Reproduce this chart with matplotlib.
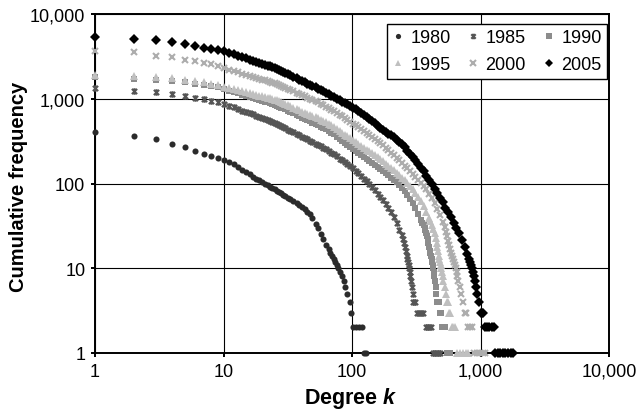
import matplotlib
matplotlib.use('Agg')
import matplotlib.pyplot as plt
from matplotlib.path import Path
from matplotlib.ticker import FixedLocator, FuncFormatter, NullLocator

plt.rcParams['font.family'] = ['Liberation Sans', 'DejaVu Sans']
plt.rcParams['mathtext.fontset'] = 'custom'
plt.rcParams['mathtext.rm'] = 'Liberation Sans:bold'
plt.rcParams['mathtext.it'] = 'Liberation Sans:italic:bold'

# ---------------- data ----------------
YEARS = ['1980', '1985', '1990', '1995', '2000', '2005']

# shared degree grid for the body of each curve (each series uses a prefix)
K_BODY = [1, 2, 3, 4, 5, 6, 7, 8, 9, 10,
          11, 12, 13, 14, 15, 16, 17, 18, 19,
          20, 21, 22, 23, 24, 25, 26, 27, 28, 29, 30,
          32, 33, 35, 37, 39, 41, 43, 45, 47, 49,
          52, 54, 57, 60, 63, 66, 69, 72, 76, 80,
          84, 88, 92, 97, 102, 107, 112, 118, 124, 130,
          136, 143, 150, 158, 166, 174, 183, 192, 201, 211,
          222, 233, 245, 257, 270, 283, 297, 312, 328, 344,
          361, 379, 398, 418, 439, 461, 484, 508, 534, 560,
          588, 618, 649, 681, 715, 751, 788]

C1980_BODY = [402, 366, 335, 292, 267, 244, 223, 209, 198, 190,
              179, 169, 155, 145, 136, 128, 120, 114, 109,
              104, 99.9, 96, 92.1, 88.5, 85.2, 82, 79.2, 76.5, 73.9, 71.5,
              67.4, 65.5, 61.8, 58.4, 55.5, 52.5, 49.4, 46.4, 43.1, 39.1,
              33.5, 30, 25.4, 21.9]
K1980_TAIL = [63, 66, 68, 70, 72, 74, 76, 78, 80, 83, 86, 89, 92, 96, 99,
              102, 108, 114, 120, 125, 129]
C1980_TAIL = [19, 17, 15, 14, 13, 12, 11, 10, 9, 8, 7, 6, 5, 4, 3,
              2, 2, 2, 2, 1, 1]

C1985_BODY = [1330, 1220, 1190, 1137, 1077, 1020, 993, 948, 908, 865,
              825, 789, 755, 725, 697, 673, 652, 631, 612,
              594, 579, 565, 551, 537, 522, 507, 492, 477, 464, 452,
              431, 420, 402, 385, 370, 356, 343, 331, 320.5, 310,
              296, 287, 275, 265, 256, 244, 232, 222.5, 209.5, 197,
              187.5, 178.5, 170, 159.8, 150.5, 141.6, 133.3, 123.7, 114.3,
              106.3,
              98.8, 91.1, 83.7, 76.1, 69.6, 63.4, 57.5, 51.3, 46, 40.3,
              34, 28.6]
K1985_TAIL = [243, 250, 255, 258, 262, 266, 270, 273, 276, 279, 282, 285,
              288, 292, 296, 300, 312, 320, 338, 355, 375, 393, 410, 427,
              445, 465, 485]
C1985_TAIL = [24.5, 22, 20, 18, 16, 14, 13, 12, 11, 10, 9, 8, 7, 6, 5, 4,
              4, 3, 3, 3, 2, 2, 2, 1, 1, 1, 1]

C1990_BODY = [1800, 1710, 1665, 1606, 1563, 1494, 1455, 1403, 1370, 1300,
              1249, 1202, 1158, 1118, 1083, 1047, 1019, 992, 968,
              945, 925, 905, 883, 862, 845, 828, 807, 787, 768, 750,
              716, 701, 673, 644, 619, 598, 576, 557, 539, 523,
              502, 488, 469, 451, 434, 415, 396, 380, 358, 337,
              319, 302, 287, 269, 254.5, 241.5, 230, 217, 205, 195,
              185.6, 176, 166.5, 157, 149, 140.7, 132, 124.4, 117.3, 110.3,
              103.3, 96.5, 89.1, 81.1, 72.8, 65.4, 58.3, 51.1, 44.1, 37.3]
K1990_TAIL = [352, 362, 368, 373, 378, 383, 388, 393, 398, 403, 408, 413,
              418, 422, 426, 430, 434, 438, 442, 447, 453, 462, 474, 482,
              492, 502, 516, 530, 545, 560, 578]
C1990_TAIL = [34.4, 32, 30, 28, 26, 24, 22, 20, 18, 16, 15, 14, 13, 12, 11,
              10, 9, 8, 7, 6, 5, 4, 4, 3, 3, 2, 2, 2, 1, 1, 1]

C1995_BODY = [1900, 1840, 1800, 1742, 1665, 1606, 1563, 1494, 1455, 1390,
              1347, 1306, 1268, 1231, 1196, 1168, 1136, 1112, 1090,
              1068, 1049, 1030, 1014, 997, 977, 957, 935, 913, 893, 873,
              837, 820, 788, 758, 731, 707, 685, 664, 646, 628,
              604, 589, 568, 549, 532, 509, 487, 467, 441, 418,
              397, 378, 360, 341, 323, 307, 293, 277, 263, 251,
              239, 226.5, 215, 204, 194, 182.5, 171.6, 161.5, 152.4, 143,
              133, 125, 116.5, 108.5, 100.8, 93.9, 85.8, 77.5, 69.5, 61.5,
              54, 46.6, 39.1]
K1995_TAIL = [408, 420, 430, 440, 448, 456, 462, 468, 474, 479, 484, 489,
              494, 500, 507, 515, 525, 538, 552, 562, 572, 584, 597, 615,
              635, 655, 690, 730, 770, 800]
C1995_TAIL = [35.7, 32, 29, 26, 23, 20, 18, 16, 14, 13, 12, 11, 10, 9, 8,
              7, 6, 5, 4, 4, 3, 3, 2, 2, 2, 1, 1, 1, 1, 1]

C2000_BODY = [3690, 3530, 3220, 3085, 2865, 2765, 2640, 2550, 2455, 2280,
              2195, 2116, 2043, 1974, 1916, 1855, 1806, 1761, 1720,
              1681, 1646, 1612, 1582, 1552, 1518, 1485, 1451, 1417, 1386,
              1356,
              1298, 1270, 1223, 1176, 1136, 1100, 1066, 1033, 1002, 973,
              934, 908, 871, 839, 809, 777, 745, 718, 682, 649,
              619, 592, 566, 536, 510, 485, 464, 439, 415, 395,
              375, 354, 335, 315, 298, 281, 263, 246, 231, 216.5,
              201, 188, 175, 163, 150.6, 140, 130, 120, 110.5, 102.4,
              93.6, 85, 76, 67, 58.8, 50.3, 42.5]
K2000_TAIL = [509, 525, 540, 552, 563, 573, 582, 592, 602, 612, 622, 632,
              642, 652, 662, 673, 688, 705, 735, 755, 772, 800, 830, 860,
              890, 940, 990, 1040, 1090]
C2000_TAIL = [35, 31, 27, 24, 21, 19, 17, 15, 14, 13, 12, 11, 10, 9, 8, 7,
              6, 5, 4, 3, 3, 2, 2, 2, 1, 1, 1, 1, 1]

C2005_BODY = [5400, 5100, 4900, 4640, 4460, 4230, 4000, 3870, 3760, 3650,
              3495, 3355, 3225, 3105, 2990, 2884, 2797, 2716, 2646,
              2579, 2518, 2460, 2405, 2350, 2299, 2250, 2193, 2138, 2085,
              2033,
              1937, 1895, 1819, 1746, 1680, 1619, 1562, 1510, 1462, 1416,
              1358, 1319, 1268, 1220, 1175, 1133, 1090, 1053, 1006, 963,
              924, 890, 858, 820, 784, 748, 713, 674, 638, 606,
              575, 542, 513, 482, 457, 433, 410, 389, 369, 350,
              330, 312, 291, 268, 244.5, 224.5, 205, 187, 170, 154,
              138.6, 124, 110.6, 97.9, 87, 77, 67.9, 59.8, 52, 45.9,
              40.3, 34.6, 30, 25.9, 21.8, 18, 14.8]
K2005_TAIL = [812, 830, 848, 865, 880, 893, 905, 917, 935, 975, 1000, 1020,
              1045, 1075, 1120, 1170, 1220, 1265, 1300, 1360, 1420, 1490,
              1560, 1640, 1720, 1800]
C2005_TAIL = [13, 12, 11, 10, 9, 8, 7, 6, 5, 4, 3, 3, 3, 2, 2, 2, 2, 2, 1,
              1, 1, 1, 1, 1, 1, 1]

X_TICKS = [1, 10, 100, 1000, 10000]
Y_TICKS = [1, 10, 100, 1000, 10000]

# ---------------- styles ----------------
ASTER = Path([(-1, -1), (1, 1), (-1, 1), (1, -1), (0, -1.25), (0, 1.25)],
             [Path.MOVETO, Path.LINETO, Path.MOVETO, Path.LINETO,
              Path.MOVETO, Path.LINETO])

STYLES = [
    dict(marker='o', ms=4.4, color='#2b2b2b', mew=0),
    dict(marker=ASTER, ms=4.7, color='#555555', mfc='none', mew=1.5),
    dict(marker='s', ms=4.3, color='#8c8c8c', mew=0),
    dict(marker='^', ms=5.5, color='#bfbfbf', mew=0),
    dict(marker='x', ms=4.8, color='#adadad', mew=1.5),
    dict(marker='D', ms=4.6, color='#000000', mew=0),
]

SERIES = [
    (C1980_BODY, K1980_TAIL, C1980_TAIL),
    (C1985_BODY, K1985_TAIL, C1985_TAIL),
    (C1990_BODY, K1990_TAIL, C1990_TAIL),
    (C1995_BODY, K1995_TAIL, C1995_TAIL),
    (C2000_BODY, K2000_TAIL, C2000_TAIL),
    (C2005_BODY, K2005_TAIL, C2005_TAIL),
]

W, H = 638, 414
fig = plt.figure(figsize=(W / 100, H / 100), dpi=100)
ax = fig.add_axes([95 / W, 1 - 354 / H, 514 / W, 339 / H])

handles = []
for year, (cb, kt, ct), st in zip(YEARS, SERIES, STYLES):
    ks = K_BODY[:len(cb)] + kt
    cs = cb + ct
    h, = ax.plot(ks, cs, linestyle='none', clip_on=False, label=year,
                 zorder=3, **st)
    handles.append(h)

ax.set_xscale('log')
ax.set_yscale('log')
ax.set_xlim(1, 10000)
ax.set_ylim(1, 10000)

fmt = FuncFormatter(lambda v, p: f'{int(round(v)):,}')
ax.xaxis.set_major_locator(FixedLocator(X_TICKS))
ax.yaxis.set_major_locator(FixedLocator(Y_TICKS))
ax.xaxis.set_minor_locator(NullLocator())
ax.yaxis.set_minor_locator(NullLocator())
ax.xaxis.set_major_formatter(fmt)
ax.yaxis.set_major_formatter(fmt)

ax.set_axisbelow(True)
ax.grid(True, which='major', color='black', lw=0.8)
for s in ax.spines.values():
    s.set_color('black')
    s.set_linewidth(1.4)
ax.tick_params(axis='both', which='major', direction='out', length=3,
               width=1.4, labelsize=13, colors='black')
ax.tick_params(axis='x', pad=4)
ax.tick_params(axis='y', pad=4)

order = [0, 3, 1, 4, 2, 5]
leg_handles = []
for i in order:
    st = dict(STYLES[i])
    st['ms'] = st['ms'] * 0.85
    hh, = ax.plot([], [], linestyle='none', **st)
    leg_handles.append(hh)
leg = ax.legend(leg_handles, [YEARS[i] for i in order],
                ncol=3, loc='upper right',
                bbox_to_anchor=(607 / W, 1 - 25 / H),
                bbox_transform=fig.transFigure, frameon=True,
                fancybox=False, edgecolor='black', framealpha=1,
                fontsize=13, handlelength=0.6, handletextpad=0.4,
                columnspacing=0.95, borderpad=0.3, labelspacing=0.55,
                borderaxespad=0)
leg.get_frame().set_linewidth(1.0)
leg.set_zorder(5)

fig.text(19 / W, 1 - 187 / H, 'Cumulative frequency', rotation=90,
         ha='center', va='center', fontsize=14.5, fontweight='bold')
fig.text(351 / W, 1 - 399 / H, r'Degree $k$', ha='center', va='center',
         fontsize=15.5, fontweight='bold')

fig.savefig('out.png', dpi=100)
